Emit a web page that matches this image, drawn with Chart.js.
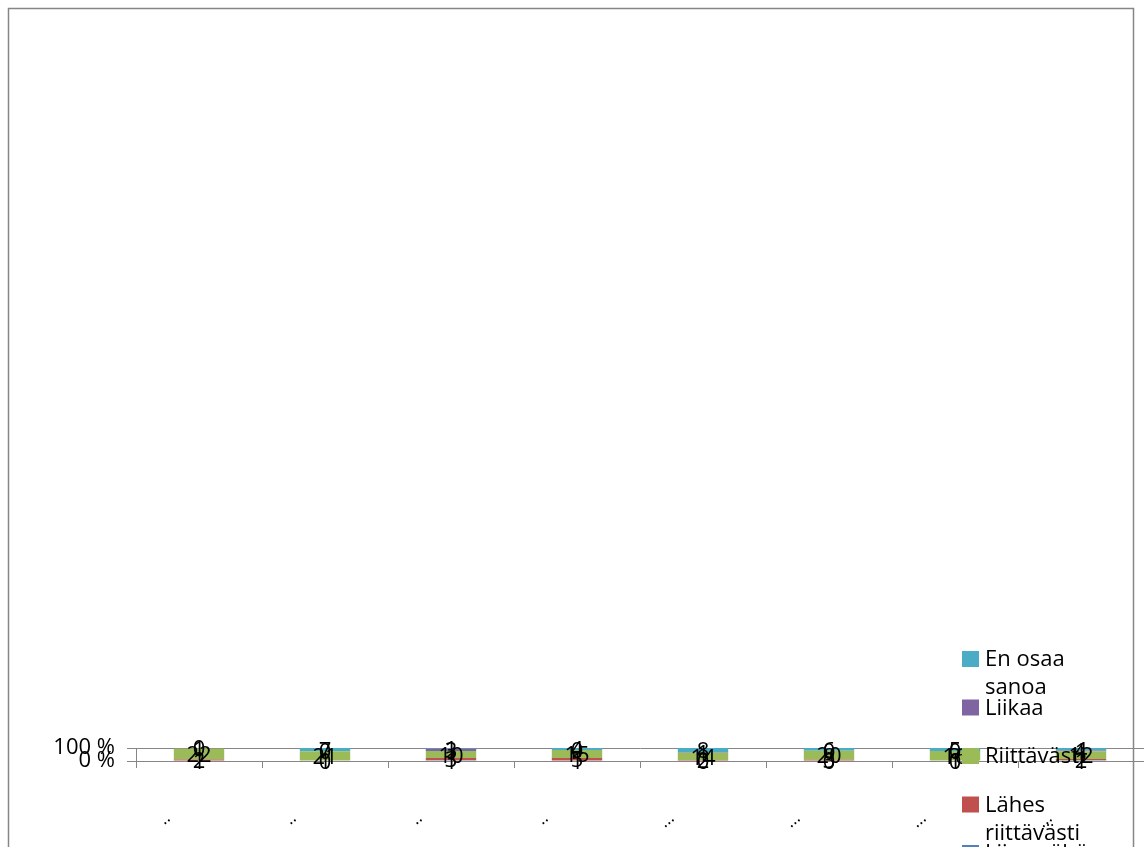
<!DOCTYPE html>
<html>
<head>
<meta charset="utf-8">
<script src="https://cdn.jsdelivr.net/npm/chart.js@4"></script>
<style>
  html, body { margin: 0; padding: 0; background: #fff; }
  #wrap { width: 1144px; height: 847px; }
</style>
</head>
<body>
<div id="wrap"><canvas id="myChart" width="1144" height="847"></canvas></div>
<script>
// categories (labels were truncated to dots in the original)
var categories = ['..', '..', '..', '..', '...', '...', '...', '...'];
var seriesNames = ['Liian vähän', 'Lähes riittävästi', 'Riittävästi', 'Liikaa', 'En osaa sanoa'];
var seriesColors = ['#4F81BD', '#C0504D', '#9BBB59', '#8064A2', '#4BACC6'];
// counts per category
var liianVahan      = [1, 1, 1, 1, 0, 0, 0, 1];
var lahesRiittava   = [2, 0, 3, 5, 2, 3, 1, 2];
var riittavasti     = [22, 21, 10, 15, 14, 20, 16, 12];
var liikaa          = [1, 0, 3, 0, 1, 0, 0, 1];
var enOsaaSanoa     = [0, 7, 1, 4, 8, 6, 5, 4];
var yTicks = [0, 100];

var counts = [liianVahan, lahesRiittava, riittavasti, liikaa, enOsaaSanoa];
var totals = categories.map(function (c, i) {
  return counts.reduce(function (s, arr) { return s + arr[i]; }, 0);
});

var datasets = counts.map(function (arr, k) {
  return {
    label: seriesNames[k],
    data: arr.map(function (v, i) { return v / totals[i] * 100; }),
    raw: arr,
    backgroundColor: seriesColors[k],
    borderWidth: 0,
    barPercentage: 0.4,
    categoryPercentage: 1.0
  };
});

var FONT = '"Open Sans", "Liberation Sans", sans-serif';

// frame around the whole chart
var framePlugin = {
  id: 'frame',
  beforeDraw: function (chart) {
    var c = chart.ctx;
    c.save();
    c.strokeStyle = '#868686';
    c.lineWidth = 1.5;
    c.strokeRect(8.5, 8.5, 1125, 900);
    c.restore();
  }
};

// value labels in the middle of each segment
var valueLabels = {
  id: 'valueLabels',
  afterDatasetsDraw: function (chart) {
    var c = chart.ctx;
    c.save();
    c.font = '22px ' + FONT;
    c.fillStyle = '#000';
    c.textAlign = 'center';
    c.textBaseline = 'middle';
    chart.data.datasets.forEach(function (ds, k) {
      var meta = chart.getDatasetMeta(k);
      meta.data.forEach(function (bar, i) {
        c.fillText(String(ds.raw[i]), bar.x, (bar.y + bar.base) / 2 + 2);
      });
    });
    c.restore();
  }
};

// legend drawn on top of the plot, like the original
var sideLegend = {
  id: 'sideLegend',
  afterDraw: function (chart) {
    var c = chart.ctx;
    var items = chart.data.datasets.slice().reverse();
    c.save();
    c.font = '22px ' + FONT;
    c.textBaseline = 'middle';
    c.textAlign = 'left';
    items.forEach(function (ds, n) {
      var cy = 659 + n * 48.5;
      c.fillStyle = ds.backgroundColor;
      c.fillRect(962, cy - 8, 17, 16);
      // wrap into lines
      var words = ds.label.split(' ');
      var lines = [], line = '';
      words.forEach(function (w) {
        var t = line ? line + ' ' + w : w;
        if (line && c.measureText(t).width > 125) { lines.push(line); line = w; }
        else line = t;
      });
      lines.push(line);
      c.fillStyle = '#000';
      lines.forEach(function (l, j) {
        c.fillText(l, 985, cy + 1 + j * 28);
      });
    });
    c.restore();
  }
};

var ctx = document.getElementById('myChart').getContext('2d');
var myChart = new Chart(ctx, {
  type: 'bar',
  data: { labels: categories, datasets: datasets },
  plugins: [framePlugin, valueLabels, sideLegend],
  options: {
    responsive: false,
    animation: false,
    layout: { padding: { top: 748, right: -9, left: 0, bottom: 0 } },
    plugins: {
      legend: { display: false },
      tooltip: { enabled: false }
    },
    scales: {
      x: {
        stacked: true,
        offset: true,
        afterFit: function (s) { s.height = 86; },
        grid: {
          offset: true,
          drawOnChartArea: false,
          drawTicks: true,
          tickLength: 7,
          color: '#868686'
        },
        border: { color: '#868686' },
        ticks: {
          autoSkip: false,
          minRotation: 40,
          maxRotation: 40,
          labelOffset: -31,
          padding: 40,
          color: '#000',
          font: { family: FONT, size: 17 }
        }
      },
      y: {
        stacked: true,
        min: 0,
        max: 100,
        afterFit: function (s) { s.width = 136; },
        afterBuildTicks: function (s) {
          s.ticks = yTicks.map(function (v) { return { value: v }; });
        },
        grid: {
          color: '#868686',
          tickLength: 9
        },
        border: { color: '#868686' },
        ticks: {
          autoSkip: false,
          padding: 12,
          color: '#000',
          font: { family: FONT, size: 22 },
          callback: function (v) { return v + ' %'; }
        }
      }
    }
  }
});
</script>
</body>
</html>
